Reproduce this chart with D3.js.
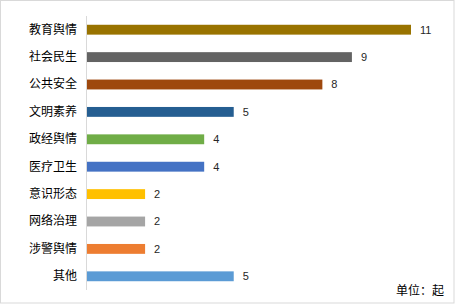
<!DOCTYPE html>
<html>
<head>
<meta charset="utf-8">
<script src="https://cdn.jsdelivr.net/npm/d3@7"></script>
<style>
  html, body { margin: 0; padding: 0; background: #fff; }
  svg { display: block; }
</style>
</head>
<body>
<div class="chart"></div>
<script>
;(function () {
  var W = 455
  var H = 304

  // data
  var categories = ['教育舆情', '社会民生', '公共安全', '文明素养', '政经舆情', '医疗卫生', '意识形态', '网络治理', '涉警舆情', '其他']
  var values = [11, 9, 8, 5, 4, 4, 2, 2, 2, 5]
  var colors = ['#997300', '#636363', '#9e480e', '#255e91', '#70ad47', '#4472c4', '#ffc000', '#a5a5a5', '#ed7d31', '#5b9bd5']
  var unitLabel = '单位：起'

  var cjk = '"Noto Sans CJK SC", "Microsoft YaHei", sans-serif'

  var svg = d3.select('.chart').append('svg')
    .attr('width', W)
    .attr('height', H)

  // outer border
  svg.append('rect')
    .attr('x', 0.5).attr('y', 0.5)
    .attr('width', W - 1.5).attr('height', H - 1.5)
    .attr('fill', '#fff')
    .attr('stroke', '#d9d9d9')

  var x = d3.scaleLinear().domain([0, 11]).range([86, 411])
  var y = d3.scaleBand().domain(categories).range([16, 290]).paddingInner(0.64).paddingOuter(0.32)

  var rows = categories.map(function (c, i) {
    return { name: c, value: values[i], color: colors[i] }
  })

  svg.selectAll('rect.bar')
    .data(rows)
    .enter().append('rect')
    .attr('class', 'bar')
    .attr('x', x(0))
    .attr('y', function (d) { return y(d.name) })
    .attr('width', function (d) { return x(d.value) - x(0) })
    .attr('height', y.bandwidth())
    .attr('fill', function (d) { return d.color })

  // category axis
  var axis = svg.append('g')
    .attr('transform', 'translate(' + x(0) + ',0)')
    .call(d3.axisLeft(y).tickSize(0).tickPadding(9))
  axis.select('.domain').attr('stroke', '#d9d9d9').attr('d', 'M0.5,16V290')
  axis.selectAll('text')
    .attr('font-family', cjk)
    .attr('font-size', 12)
    .attr('fill', '#000')

  // value labels
  svg.selectAll('text.val')
    .data(rows)
    .enter().append('text')
    .attr('class', 'val')
    .attr('x', function (d) { return x(d.value) + 9 })
    .attr('y', function (d) { return y(d.name) + y.bandwidth() / 2 })
    .attr('dy', '0.35em')
    .attr('font-family', '"Liberation Sans", Arial, sans-serif')
    .attr('font-size', 11)
    .attr('fill', '#262626')
    .text(function (d) { return d.value })

  svg.append('text')
    .attr('x', 444)
    .attr('y', 291)
    .attr('dy', '0.35em')
    .attr('text-anchor', 'end')
    .attr('font-family', cjk)
    .attr('font-size', 12)
    .attr('fill', '#000')
    .text(unitLabel)
})()
</script>
</body>
</html>
